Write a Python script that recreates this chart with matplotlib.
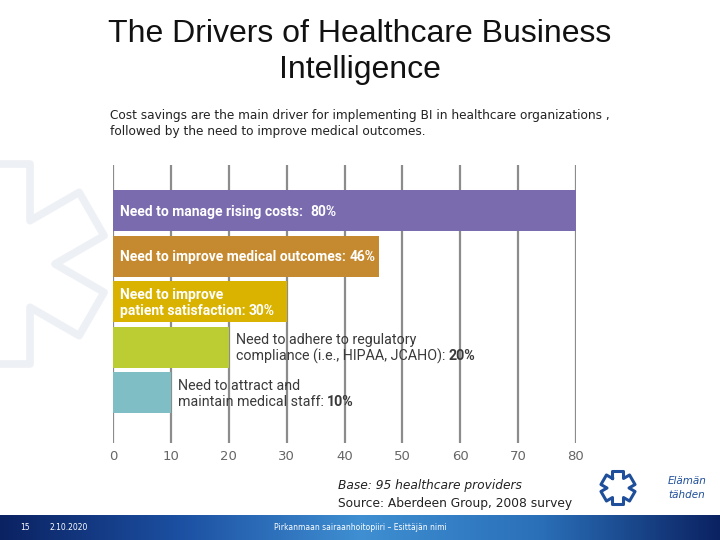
import numpy as np
import matplotlib.pyplot as plt
from matplotlib.colors import LinearSegmentedColormap

# DATA
drivers = [
    "Need to manage rising costs:  ",
    "Need to improve medical outcomes: ",
    "Need to improve\npatient satisfaction: ",
    "Need to adhere to regulatory\ncompliance (i.e., HIPAA, JCAHO): ",
    "Need to attract and\nmaintain medical staff: ",
]
values = [80, 46, 30, 20, 10]
inside = [True, True, True, False, False]
colors = ["#7a6baf", "#c58a2f", "#d9b300", "#bccc33", "#7fbec4"]
ticks = [0, 10, 20, 30, 40, 50, 60, 70, 80]

title = "The Drivers of Healthcare Business\nIntelligence"
subtitle = ("Cost savings are the main driver for implementing BI in healthcare organizations ,\n"
            "followed by the need to improve medical outcomes.")
base_txt = "Base: 95 healthcare providers"
source_txt = "Source: Aberdeen Group, 2008 survey"


def star_of_life(cx, cy, w, L):
    # outline of a six-armed cross, in pixel coords
    pts = []
    for k in range(6):
        a = np.deg2rad(90 - 60 * k)
        d = np.array([np.cos(a), np.sin(a)])
        p = np.array([-d[1], d[0]])
        b = np.deg2rad(90 - 60 * k + 30)
        pts.append((cx + 2 * w * np.cos(b), cy + 2 * w * np.sin(b)))
        pts.append(tuple(np.array([cx, cy]) + L * d + w * p))
        pts.append(tuple(np.array([cx, cy]) + L * d - w * p))
    pts.append(pts[0])
    return np.array(pts)


W, H = 720, 540
fig = plt.figure(figsize=(7.2, 5.4), dpi=100)

# background layer in pixel coordinates
bg = fig.add_axes([0, 0, 1, 1])
bg.set_xlim(0, W)
bg.set_ylim(0, H)
bg.axis("off")

# watermark star on the left
s = star_of_life(5, H - 264, 25, 100)
bg.plot(s[:, 0], s[:, 1], color="#edf0f5", lw=5.5, solid_joinstyle="round")

# footer gradient band
cmap = LinearSegmentedColormap.from_list(
    "band", ["#0b2262", "#1c50a2", "#3f8fd2", "#2a70b9", "#0b2262"])
grad = np.linspace(0, 1, 256).reshape(1, -1)
bg.imshow(grad, extent=[0, W, 0, 25], aspect="auto", cmap=cmap, zorder=1)
bg.text(25, 12, "15", color="white", fontsize=5.5, va="center", ha="center")
bg.text(50, 12, "2.10.2020", color="white", fontsize=5.5, va="center")
bg.text(360, 12, "Pirkanmaan sairaanhoitopiiri \u2013 Esittäjän nimi",
        color="white", fontsize=5.5, va="center", ha="center")

# small logo bottom right
lg = star_of_life(618, H - 488, 5.5, 16.5)
bg.plot(lg[:, 0], lg[:, 1], color="#1f4f9a", lw=2.2, solid_joinstyle="round")
bg.text(668, H - 481, "Elämän", color="#1f4f9a", fontsize=7.5, style="italic",
        va="center")
bg.text(668, H - 495, "tähden", color="#1f4f9a", fontsize=7.5, style="italic",
        va="center")

# titles
fig.text(0.5, 1 - 52 / H, title, ha="center", va="center", fontsize=23,
         family="Liberation Sans", color="#111111", linespacing=1.27)
fig.text(110 / W, 1 - 123 / H, subtitle, ha="left", va="center", fontsize=8.75,
         color="#222222", linespacing=1.3)
fig.text(338 / W, 1 - 486 / H, base_txt, ha="left", va="center", fontsize=8.8,
         style="italic", color="#222222")
fig.text(338 / W, 1 - 503 / H, source_txt, ha="left", va="center", fontsize=8.8,
         color="#222222")

# chart
ax = fig.add_axes([113 / W, 1 - 443 / H, (576 - 113) / W, (443 - 165) / H])
ax.set_facecolor("none")
y = np.arange(len(values))
ax.barh(y, values, height=0.9, color=colors, zorder=2)
ax.set_xlim(0, 80)
ax.set_ylim(5.11, -1.01)
ax.set_xticks(ticks)
ax.set_xticklabels([str(t) for t in ticks], color="#666666", fontsize=9.5)
ax.tick_params(axis="x", length=0, pad=5)
ax.set_yticks([])
for sp in ax.spines.values():
    sp.set_visible(False)
ax.grid(axis="x", color="#8c8c8c", lw=1.6, zorder=0)

step = 11.5  # points between label lines
for i, (lab, v) in enumerate(zip(drivers, values)):
    if inside[i]:
        x0, col, wt, fs = 1.2, "white", "bold", 10
    else:
        x0, col, wt, fs = v + 1.2, "#3a3a3a", "normal", 10.3
    lines = lab.split("\n")
    n = len(lines)
    last = None
    for j, ln in enumerate(lines):
        off = (n - 1) * step / 2 - j * step - 3.6
        last = ax.annotate(ln, xy=(x0, i), xytext=(0, off),
                           textcoords="offset points", color=col, fontsize=fs,
                           family="Roboto", weight=wt, va="baseline",
                           ha="left", zorder=3)
    ax.annotate(f"{v}%", xy=(1, i), xycoords=(last, "data"), xytext=(0, off),
                textcoords="offset points", va="baseline", ha="left",
                color=col, fontsize=fs, family="Roboto", weight="bold",
                zorder=3)

fig.savefig("out.png", dpi=100)
